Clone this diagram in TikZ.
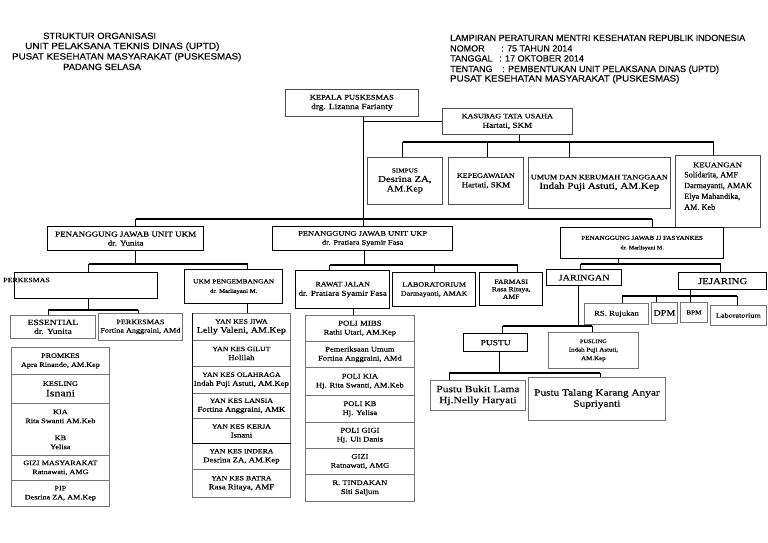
\documentclass[tikz,border=0pt]{standalone}
\usepackage{fontspec}
\setmainfont{Liberation Serif}
\newfontfamily\hd{Liberation Sans}[FakeBold=0.2]
\newfontfamily\sw{Liberation Serif}[FakeStretch=1.2,FakeBold=0.2]
\newfontfamily\sr{Liberation Serif}[FakeBold=0.2]
\newcommand\fz[2]{\fontsize{#1}{#2}\selectfont}
\newcommand\obox[7][bx]{\node[#1,minimum width={#5-#3},minimum height={#6-#4}] (#2) at (#3,#4) {#7};}
\begin{document}
\begin{tikzpicture}[x=1pt,y=-1pt,
 bx/.style={draw=black!70, line width=0.7pt, anchor=north west, inner sep=0pt, align=center, font=\sw\fz{7.3}{9.5}},
 tb/.style={bx, draw=black, line width=1.3pt},
 st/.style={bx, draw=black!55, line width=0.8pt, font=\sw\fz{7.1}{9}},
 hdr/.style={anchor=base west, inner sep=0pt, font=\hd\fz{9}{10}},
 cn/.style={draw=black, line width=1.1pt},
]
\useasboundingbox (0,0) rectangle (768,543);
\fill[white] (0,0) rectangle (768,543);
% headers
\node[hdr] (hdA) at (43,39) {\scalebox{1.05}[1]{STRUKTUR ORGANISASI}};
\node[hdr] (hdB) at (25,49) {\scalebox{1.11}[1]{UNIT PELAKSANA TEKNIS DINAS (UPTD)}};
\node[hdr] (hdC) at (12,59.5) {\scalebox{1.08}[1]{PUSAT KESEHATAN MASYARAKAT (PUSKESMAS)}};
\node[hdr] (hdD) at (63,70) {\scalebox{1.04}[1]{PADANG SELASA}};
\node[hdr] (hdE) at (450,41) {LAMPIRAN PERATURAN MENTRI KESEHATAN REPUBLIK INDONESIA};
\node[hdr] (hdF) at (450,51.5) {\makebox[51pt][l]{NOMOR}: 75 TAHUN 2014};
\node[hdr] (hdG) at (450,61.5) {\makebox[49pt][l]{TANGGAL}: 17 OKTOBER 2014};
\node[hdr] (hdH) at (450,72) {\makebox[52pt][l]{TENTANG}: PEMBENTUKAN UNIT PELAKSANA DINAS (UPTD)};
\node[hdr] (hdI) at (450,81.5) {\scalebox{1.08}[1]{PUSAT KESEHATAN MASYARAKAT (PUSKESMAS)}};
% top
\obox{kep}{285}{89}{418}{116}{{\fz{7.0}{9.5}KEPALA PUSKESMAS}\\{\fz{7.8}{9.5}drg. Lizanna Farianty}}
\obox{kas}{442}{108}{572}{134}{{\fz{6.8}{9}KASUBAG TATA USAHA}\\{\fz{7.6}{10}Hartati, SKM}}
\obox{sim}{367}{157}{442}{204}{{\fz{6}{8}SIMPUS}\\{\fz{9}{10.5}Desrina ZA,}\\{\fz{8.6}{10.5}AM.Kep}}
\obox{kpg}{448}{157}{523}{204}{{\fz{6.7}{8}KEPEGAWAIAN}\\{\fz{7.4}{10}Hartati, SKM}}
\obox{umm}{528}{157}{670}{208}{{\fz{6.8}{8}UMUM DAN KERUMAH TANGGAAN}\\{\fz{9.2}{13}Indah Puji Astuti, AM.Kep}}
\obox{keu}{675}{155}{760}{227}{}
\node[inner sep=0pt, font=\sw\fz{7.2}{8}] (keut) at (717.5,165) {KEUANGAN};
\node[anchor=north west, inner sep=0pt, align=left, font=\sr\fz{8.2}{10.8}] (keub) at (684,171.5) {Solidarita, AMF\\Darmayanti, AMAK\\Elya Mahandika,\\AM. Keb};
% penanggung jawab
\obox[tb,font=\sw\fz{7.5}{9}]{pj1}{47}{226}{203}{250}{PENANGGUNG JAWAB UNIT UKM\\dr. Yunita}
\obox[tb,font=\sw\fz{7}{9}]{pj2}{272}{226}{452}{250}{PENANGGUNG JAWAB UNIT UKP\\dr. Pratiara Syamir Fasa}
\obox[tb]{pj3}{560}{227}{723}{258}{{\fz{5.8}{9}PENANGGUNG JAWAB JJ FASYANKES}\\{\fz{5.1}{9}dr. Marlisyani M.}}
% UKM
\obox[tb]{perk}{14}{272}{157}{298}{}
\node[anchor=west, inner sep=0pt, font=\sw\fz{6.6}{8}] (perkl) at (3,280) {PERKESMAS};
\obox[tb]{peng}{184}{269}{282}{303}{{\fz{6.15}{9}UKM PENGEMBANGAN}\\{\fz{5.55}{9}dr. Marlisyani M.}}
\obox[st,font=\sw\fz{7.9}{9}]{ess}{10}{315}{95}{338}{ESSENTIAL\\dr. Yunita}
\obox[st,font=\sw\fz{6.8}{8.5}]{perk2}{98}{313}{182}{340}{PERKESMAS\\Fortina Anggraini, AMd}
\obox[st,font=\sw\fz{6.8}{9}]{l1}{11}{347}{109}{374}{PROMKES\\Apra Rinando, AM.Kep}
\obox[st,font=\sw\fz{6.8}{10.5}]{l2}{11}{374}{109}{403}{KESLING\\{\fz{9.9}{10.5}Isnani}}
\obox[st,font=\sw\fz{6.9}{9}]{l3}{11}{403}{109}{455}{KIA\\Rita Swanti AM.Keb\\[8pt]KB\\Yelisa}
\obox[st,font=\sw\fz{6.8}{9}]{l4}{11}{455}{109}{480}{GIZI MASYARAKAT\\Ratnawati, AMG}
\obox[st,font=\sw\fz{6.8}{9}]{l5}{11}{480}{109}{506}{PIP\\Desrina ZA, AM.Kep}
\obox[st,font=\sw\fz{7.3}{9}]{p1}{192}{313}{290}{340}{{\fz{6.5}{9}YAN KES JIWA}\\{\fz{8.3}{9}Lelly Valeni, AM.Kep}}
\obox[st,font=\sw\fz{7.3}{9}]{p2}{192}{340}{290}{366}{{\fz{6.5}{9}YAN KES GILUT}\\Holilah}
\obox[st,font=\sw\fz{7.3}{9}]{p3}{192}{366}{290}{393}{{\fz{6.5}{9}YAN KES OLAHRAGA}\\Indah Puji Astuti, AM.Kep}
\obox[st,font=\sw\fz{7.3}{9}]{p4}{192}{393}{290}{418}{{\fz{6.5}{9}YAN KES LANSIA}\\Fortina Anggraini, AMK}
\obox[st,font=\sw\fz{7.3}{9}]{p5}{192}{418}{290}{443}{{\fz{6.5}{9}YAN KES KERJA}\\Isnani}
\obox[st,font=\sw\fz{7.3}{9}]{p6}{192}{443}{290}{469}{{\fz{6.5}{9}YAN KES INDERA}\\Desrina ZA, AM.Kep}
\obox[st,font=\sw\fz{7.3}{9}]{p7}{192}{469}{290}{497}{{\fz{6.5}{9}YAN KES BATRA}\\Rasa Ritaya, AMF}
\draw[cn, line width=0.8pt] (p1.north west) -- (p5.south west) -- (p5.south east);
% UKP
\obox[tb]{rj}{295}{270}{389}{308}{{\fz{6.7}{10}RAWAT JALAN}\\{\fz{7.6}{10}dr. Pratiara Syamir Fasa}}
\obox[tb,font=\sw\fz{6.7}{9}]{lab}{392}{272}{475}{306}{LABORATORIUM\\Darmayanti, AMAK}
\obox[tb,font=\sw\fz{6.4}{7.5}]{far}{479}{272}{542}{305}{FARMASI\\Rasa Ritaya,\\AMF}
\obox[st]{q1}{305}{315}{414}{341}{{\fz{7.4}{9}POLI MIBS}\\Rathi Utari, AM.Kep}
\obox[st]{q2}{305}{341}{414}{367}{Pemeriksaan Umum\\Fortina Anggraini, AMd}
\obox[st]{q3}{305}{367}{414}{395}{POLI KIA\\Hj. Rita Swanti, AM.Keb}
\obox[st]{q4}{305}{395}{414}{422}{POLI KB\\Hj. Yelisa}
\obox[st]{q5}{305}{422}{414}{448}{POLI GIGI\\Hj. Uli Danis}
\obox[st]{q6}{305}{448}{414}{474}{GIZI\\Ratnawati, AMG}
\obox[st]{q7}{305}{474}{414}{501}{R. TINDAKAN\\Siti Saljum}
% Fasyankes
\obox[tb,font=\sw\fz{8.5}{10}]{jar}{546}{269}{621}{285}{JARINGAN}
\obox[tb,font=\sw\fz{9}{10}]{jej}{678}{272}{766}{289}{JEJARING}
\obox[st,font=\sw\fz{7.3}{9}]{rs}{584}{303}{648}{324}{RS. Rujukan}
\obox[st,font=\sw\fz{8.4}{9}]{dpm}{651}{302}{677}{323}{DPM}
\obox[st,font=\sw\fz{6}{9}]{bpm}{680}{302}{707}{322}{BPM}
\obox[st,font=\sw\fz{6.8}{9}]{lbr}{710}{305}{766}{325}{Laboratorium}
\obox[tb,font=\sw\fz{7.9}{9}]{pst}{463}{333}{527}{351}{PUSTU}
\obox[st,font=\sw\fz{5.8}{8.5}]{psl}{548}{332}{638}{368}{{\fz{5.3}{8.5}PUSLING}\\Indah Puji Astuti,\\AM.Kep}
\obox[st,font=\sw\fz{9.6}{11}]{bkl}{430}{380}{525}{410}{Pustu Bukit Lama\\Hj.Nelly Haryati}
\obox[st,font=\sw\fz{9.4}{11}]{tlg}{528}{377}{665}{420}{Pustu Talang Karang Anyar\\Supriyanti}
% connectors top
\coordinate (k0) at ([xshift=12]kep.south);
\coordinate (b0) at (0,219);
\draw[cn] (k0) -- (k0 |- pj2.north);
\draw[cn] (k0 |- kas.west) -- (kas.west);
\coordinate (d1) at ([xshift=10]pj1.north);
\coordinate (d3) at ([xshift=10]pj3.north);
\draw[cn] (d1 |- b0) -- (d3 |- b0);
\draw[cn] (d1 |- b0) -- (d1);
\draw[cn] (d3 |- b0) -- (d3);
\coordinate (ks) at ([xshift=12]kas.south);
\coordinate (b1) at (0,142);
\coordinate (e1) at ([xshift=-2]sim.north);
\coordinate (e2) at ([xshift=2]kpg.north);
\coordinate (e3) at ([xshift=-30]umm.north);
\coordinate (e4) at ([xshift=-4]keu.north);
\draw[cn] (ks) -- (ks |- b1);
\draw[cn] (e1 |- b1) -- (e4 |- b1);
\foreach \e in {e1,e2,e3,e4} \draw[cn] (\e |- b1) -- (\e);
% UKM
\coordinate (u0) at ([xshift=10]pj1.south);
\coordinate (b2) at (0,264);
\coordinate (u1) at ([xshift=2.5]perk.north);
\coordinate (u2) at ([xshift=14]peng.north);
\draw[cn] (u0) -- (u0 |- b2);
\draw[cn] (u1 |- b2) -- (u2 |- b2);
\draw[cn] (u1 |- b2) -- (u1);
\draw[cn] (u2 |- b2) -- (u2);
\coordinate (v0) at ([xshift=2.5]perk.south);
\coordinate (b3) at (0,310);
\coordinate (v1) at ([xshift=-4.5]ess.north);
\coordinate (v2) at ([xshift=-2]perk2.north);
\draw[cn] (v0) -- (v0 |- b3);
\draw[cn] (v1 |- b3) -- (v2 |- b3);
\draw[cn] (v1 |- b3) -- (v1);
\draw[cn] (v2 |- b3) -- (v2);
\coordinate (u3) at ([xshift=14]peng.south);
\draw[cn] (u3) -- (u3 |- p1.north);
% UKP
\coordinate (w0) at ([xshift=2]pj2.south);
\coordinate (b4) at (0,265);
\coordinate (w1) at ([xshift=-13]rj.north);
\coordinate (w2) at (lab.north);
\coordinate (w3) at ([xshift=6.5]far.north);
\draw[cn] (w0) -- (w0 |- b4);
\draw[cn] (w1 |- b4) -- (w3 |- b4);
\foreach \w in {w1,w2,w3} \draw[cn] (\w |- b4) -- (\w);
\coordinate (w4) at ([xshift=11]rj.south);
\draw[cn] (w4) -- (w4 |- q1.north);
% Fasyankes
\coordinate (f0) at ([xshift=-23.5]pj3.south);
\coordinate (b5) at (0,264);
\coordinate (f1) at ([xshift=-3.5]jar.north);
\coordinate (f2) at ([xshift=-2]jej.north);
\draw[cn] (f0) -- (f0 |- b5);
\draw[cn] (f1 |- b5) -- (f2 |- b5);
\draw[cn] (f1 |- b5) -- (f1);
\draw[cn] (f2 |- b5) -- (f2);
\coordinate (g0) at ([xshift=-32]jej.south);
\coordinate (b6) at (0,296);
\coordinate (g1) at ([xshift=6]rs.north);
\coordinate (g2) at ([xshift=-8]dpm.north);
\coordinate (g3) at ([xshift=-3.5]bpm.north);
\coordinate (g4) at ([xshift=-1]lbr.north);
\draw[cn] (g0) -- (g0 |- b6);
\draw[cn] (g1 |- b6) -- (g4 |- b6);
\foreach \g in {g1,g2,g3,g4} \draw[cn] (\g |- b6) -- (\g);
\coordinate (h0) at ([xshift=-5.5]jar.south);
\coordinate (b7) at (0,326);
\coordinate (h1) at ([xshift=7]pst.north);
\coordinate (h2) at ([xshift=-1]psl.north);
\draw[cn] (h0) -- (h0 |- b7);
\draw[cn] (h1 |- b7) -- (h2 |- b7);
\draw[cn] (h1 |- b7) -- (h1);
\draw[cn] (h2 |- b7) -- (h2);
\coordinate (i0) at ([xshift=4]pst.south);
\coordinate (b8) at (0,373);
\coordinate (i1) at ([xshift=-28.5]bkl.north);
\coordinate (i2) at ([xshift=3.5]tlg.north);
\draw[cn] (i0) -- (i0 |- b8);
\draw[cn] (i1 |- b8) -- (i2 |- b8);
\draw[cn] (i1 |- b8) -- (i1);
\draw[cn] (i2 |- b8) -- (i2);
\end{tikzpicture}
\end{document}
